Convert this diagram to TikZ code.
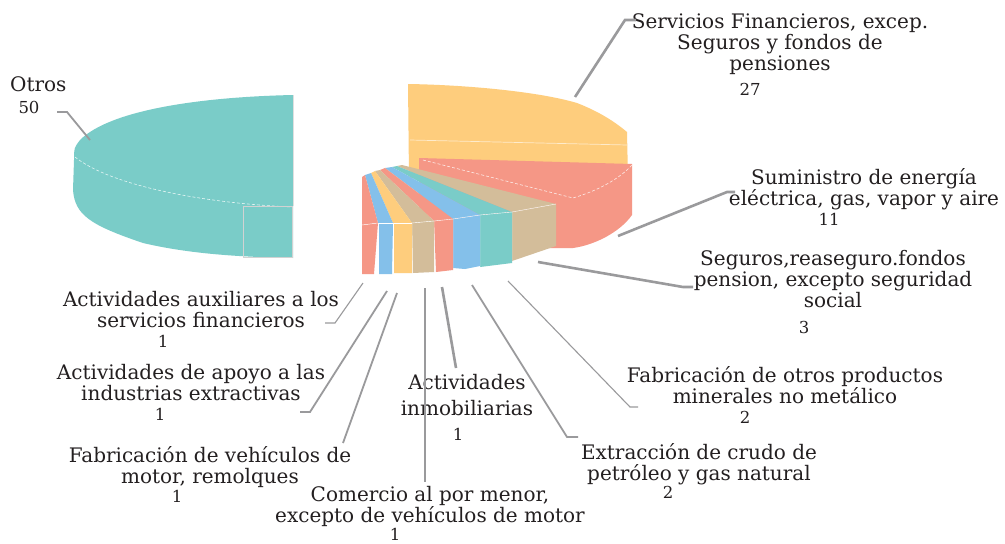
\documentclass[tikz,border=0pt]{standalone}
\usepackage{fontspec}
\setmainfont{DejaVu Serif}
\definecolor{cteal}{HTML}{7ACCC8}
\definecolor{cyellow}{HTML}{FECD7D}
\definecolor{csalmon}{HTML}{F59786}
\definecolor{cbeige}{HTML}{D3BD9A}
\definecolor{cblue}{HTML}{84C0EA}
\definecolor{leadgray}{HTML}{9A9A9C}
\definecolor{txt}{HTML}{231F20}
\begin{document}
\begin{tikzpicture}[x=1pt,y=-1pt,
  lbl/.style={align=center, anchor=base, inner sep=0pt, text=txt, font=\fontsize{20}{21}\selectfont},
  num/.style={anchor=base, inner sep=0pt, text=txt, font=\fontsize{16.5}{17}\selectfont},
  leadthin/.style={draw=leadgray, line width=1.1pt},
  leadmid/.style={draw=leadgray, line width=1.8pt},
  leadthick/.style={draw=leadgray, line width=2.6pt},
  faceedge/.style={draw=white, line width=0.4pt, line join=round},
  seam/.style={draw=white, line width=0.6pt, dash pattern=on 3pt off 2pt, opacity=0.8}]
\useasboundingbox (0,0) rectangle (1005,544);
\fill[white] (0,0) rectangle (1005,544);

% ---------- Otros (teal, big slice) ----------
\fill[cteal] (293,95) .. controls (200,97) and (110,110) .. (80,140)
  .. controls (74,148) .. (74,160) -- (73,190)
  .. controls (75,215) and (90,225) .. (143,243)
  .. controls (190,254) and (240,257) .. (293,258) -- cycle;
\draw[seam] (75,157) .. controls (110,185) and (200,203) .. (292,207);
\draw[gray!35, line width=0.6pt] (243,206) rectangle (292,257);
\draw[gray!25, line width=0.6pt] (293,95) -- (293,206);

% ---------- Servicios Financieros (yellow) ----------
\fill[cyellow] (408,84) .. controls (470,85) and (540,92) .. (577,103)
  .. controls (600,112) and (615,122) .. (627,132) -- (628,178) -- (409,178) -- cycle;
\draw[white, opacity=0.6, line width=0.7pt] (410,140) -- (627,145);

% ---------- Suministro (salmon) ----------
\fill[csalmon] (419,158) -- (632,164) -- (632,215)
  .. controls (620,232) and (595,245) .. (573,248) -- (545,248) -- (450,225) -- (419,210) -- cycle;
\draw[seam] (423,160) -- (573,198) .. controls (600,190) and (620,178) .. (632,165);

% ---------- small slices ----------
\coordinate (s0) at (402,165); \coordinate (e0) at (556,204);
\coordinate (s1) at (397,166); \coordinate (e1) at (512,212);
\coordinate (s2) at (392,167); \coordinate (e2) at (480,215);
\coordinate (s3) at (385,168); \coordinate (e3) at (453,219);
\coordinate (s4) at (380,170); \coordinate (e4) at (434,221);
\coordinate (s5) at (375,171); \coordinate (e5) at (412,223);
\coordinate (s6) at (371,173); \coordinate (e6) at (393,223);
\coordinate (s7) at (365,175); \coordinate (e7) at (378,223);
\coordinate (s8) at (362,177); \coordinate (e8) at (362,225);

% Seguros (beige)
\fill[cbeige] (s0) -- (e0) -- (e1) -- (s1) -- cycle;
\fill[cbeige] (e1) -- (e0) -- (556,246) -- (512,261) -- cycle;
\draw[faceedge] (e1) -- (e0) (512,212) -- (512,261);
% Fab. otros (teal)
\fill[cteal] (s1) -- (e1) -- (e2) -- (s2) -- cycle;
\fill[cteal] (e2) -- (e1) -- (512,263) -- (480,267) -- cycle;
\draw[faceedge] (e2) -- (e1) (480,215) -- (480,267);
% Extraccion (blue)
\fill[cblue] (s2) -- (e2) -- (e3) -- (s3) -- cycle;
\fill[cblue] (e3) -- (e2) -- (480,266) -- (465,269) -- (453,268) -- cycle;
\draw[faceedge] (e3) -- (e2) (453,219) -- (453,268);
% Inmobiliarias (salmon)
\fill[csalmon] (s3) -- (e3) -- (e4) -- (s4) -- cycle;
\fill[csalmon] (e4) -- (e3) -- (453,270) -- (436,272) -- cycle;
\draw[faceedge] (e4) -- (e3) (434,221) -- (434,272);
% Comercio (beige)
\fill[cbeige] (s4) -- (e4) -- (e5) -- (s5) -- cycle;
\fill[cbeige] (e5) -- (e4) -- (434,272) -- (413,273) -- cycle;
\draw[faceedge] (e5) -- (e4) (412,223) -- (412,273);
% Vehiculos (yellow)
\fill[cyellow] (s5) -- (e5) -- (e6) -- (s6) -- cycle;
\fill[cyellow] (e6) -- (e5) -- (412,273) -- (394,273) -- cycle;
\draw[faceedge] (e6) -- (e5) (393,223) -- (393,273);
% Apoyo (blue)
\fill[cblue] (s6) -- (e6) -- (e7) -- (s7) -- cycle;
\fill[cblue] (e7) -- (e6) -- (392,274) -- (379,274) -- cycle;
\draw[faceedge] (e7) -- (e6) (378,223) -- (378,274);
% Auxiliares (salmon)
\fill[csalmon] (s7) -- (e7) -- (e8) -- (s8) -- cycle;
\fill[csalmon] (e8) -- (e7) -- (374,274) -- (362,274) -- cycle;
\draw[faceedge] (e8) -- (e7);

% ---------- labels (anchor = baseline of last line) ----------
\node[lbl, anchor=base west] (tOtros) at (10,91) {Otros};
\node[num] (nOtros) at (29,113) {50};

\node[lbl] (tServ) at (780,70) {Servicios Financieros, excep.\\Seguros y fondos de\\pensiones};
\node[num] (nServ) at (750,95) {27};

\node[lbl] (tSumi) at (864,205) {Suministro de energía\\eléctrica, gas, vapor y aire};
\node[num] (nSumi) at (829,225) {11};

\node[lbl] (tSeg) at (833,307) {Seguros,reaseguro.fondos\\pension, excepto seguridad\\social};
\node[num] (nSeg) at (804,333) {3};

\node[lbl] (tAux) at (201,327) {Actividades auxiliares a los\\servicios financieros};
\node[num] (nAux) at (163,347) {1};

\node[lbl] (tApo) at (191,400) {Actividades de apoyo a las\\industrias extractivas};
\node[num] (nApo) at (160,420) {1};

\node[lbl] (tVeh) at (210,483) {Fabricación de vehículos de\\motor, remolques};
\node[num] (nVeh) at (177,502) {1};

\node[lbl] (tCom) at (430,522) {Comercio al por menor,\\excepto de vehículos de motor};
\node[num] (nCom) at (395,540) {1};

\node[lbl, font=\fontsize{20}{26}\selectfont] (tInm) at (467,415) {Actividades\\inmobiliarias};
\node[num] (nInm) at (458,440) {1};

\node[lbl] (tExt) at (699,480) {Extracción de crudo de\\petróleo y gas natural};
\node[num] (nExt) at (668,498) {2};

\node[lbl] (tFab) at (785,403) {Fabricación de otros productos\\minerales no metálico};
\node[num] (nFab) at (745,423) {2};

% ---------- leader lines ----------
\coordinate (aOtros) at (90,140); \coordinate (kOtros) at (67,112); \coordinate (eOtros) at (57,112);
\coordinate (aServ) at (575,97); \coordinate (kServ) at (625,20); \coordinate (eServ) at (636,20);
\coordinate (aSumi) at (618,236); \coordinate (kSumi) at (727,192); \coordinate (eSumi) at (735,192);
\coordinate (aSeg) at (538,262); \coordinate (kSeg) at (683,287); \coordinate (eSeg) at (693,287);
\coordinate (aAux) at (363,283); \coordinate (kAux) at (335,323); \coordinate (eAux) at (325,323);
\coordinate (aApo) at (387,291); \coordinate (kApo) at (310,412); \coordinate (eApo) at (300,412);
\coordinate (aVeh) at (397,293); \coordinate (eVeh) at (343,443);
\coordinate (aCom) at (425,288); \coordinate (eCom) at (425,482);
\coordinate (aInm) at (442,287); \coordinate (eInm) at (456,368);
\coordinate (aExt) at (472,285); \coordinate (kExt) at (567,437); \coordinate (eExt) at (578,437);
\coordinate (aFab) at (508,281); \coordinate (kFab) at (630,407); \coordinate (eFab) at (638,407);

\draw[leadmid] (aOtros) -- (kOtros) -- (eOtros);
\draw[leadthick] (aServ) -- (kServ) -- (eServ);
\draw[leadthick] (aSumi) -- (kSumi) -- (eSumi);
\draw[leadthick] (aSeg) -- (kSeg) -- (eSeg);
\draw[leadthin] (aAux) -- (kAux) -- (eAux);
\draw[leadmid] (aApo) -- (kApo) -- (eApo);
\draw[leadmid] (aVeh) -- (eVeh);
\draw[leadthick] (aCom) -- (eCom);
\draw[leadthick] (aInm) -- (eInm);
\draw[leadmid] (aExt) -- (kExt) -- (eExt);
\draw[leadthin] (aFab) -- (kFab) -- (eFab);
\end{tikzpicture}
\end{document}
